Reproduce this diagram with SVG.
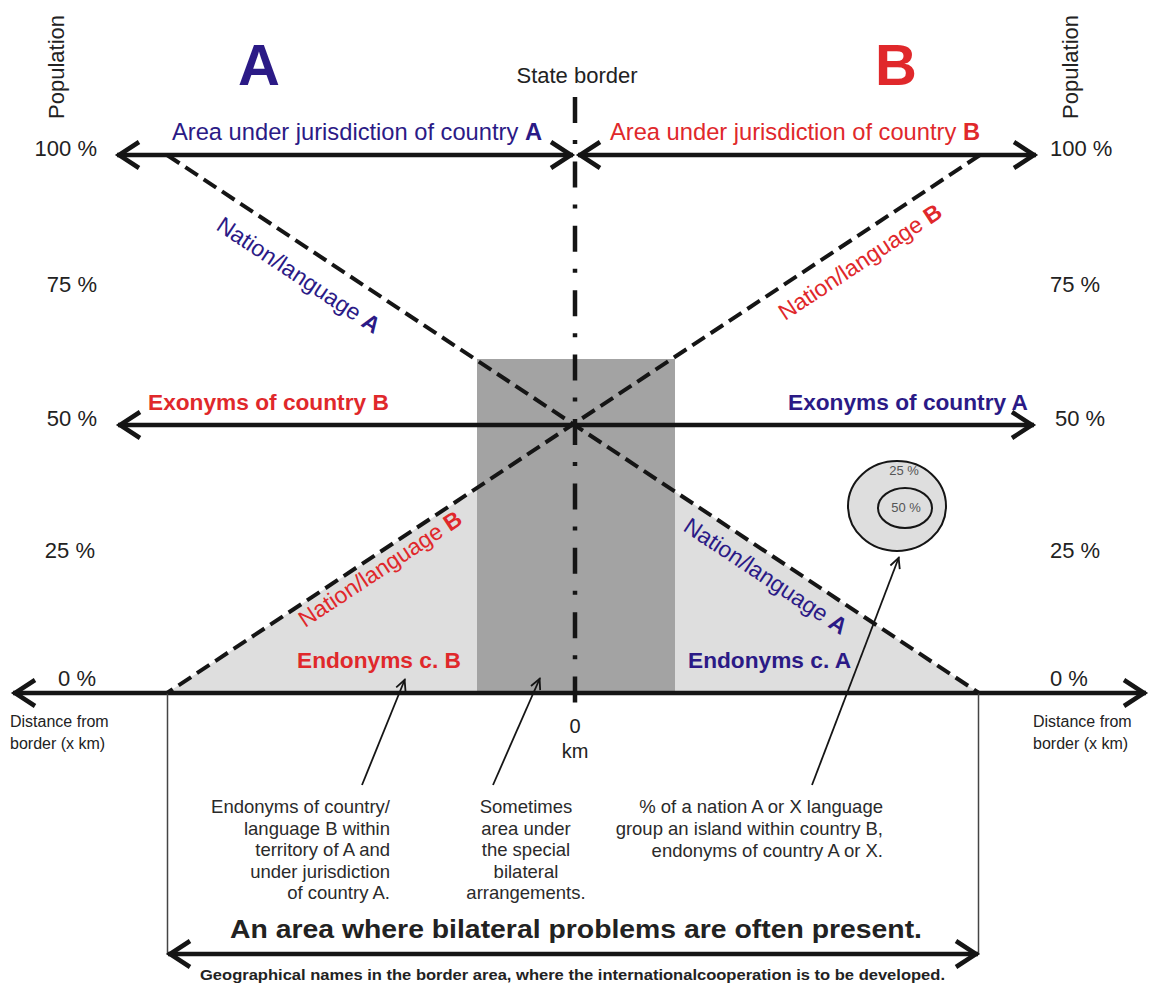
<svg xmlns="http://www.w3.org/2000/svg" width="1151" height="986" viewBox="0 0 1151 986">
<style>
text{font-family:"Liberation Sans",Arial,sans-serif;fill:#222}
.lbl{font-size:22px}
.juris{font-size:23.7px}
.exo{font-size:22.7px}
.nat{font-size:23px}
.b{font-weight:bold}
.navy{fill:#2b1a86}
.red{fill:#e0282b}
.note{font-size:18.5px;fill:#2a2a2a}
.ax{stroke:#151515;stroke-width:4.5;fill:none}
.dash{stroke:#151515;stroke-width:4;stroke-dasharray:15 7;fill:none}
.thin{stroke:#444;stroke-width:1.5;fill:none}
.ptr{stroke:#151515;stroke-width:1.8;fill:none}
</style>
<defs>
<marker id="big" viewBox="-26 -17 32 34" refX="0" refY="0" markerWidth="32" markerHeight="34" markerUnits="userSpaceOnUse" orient="auto-start-reverse">
<path d="M-22,-13 L-2,0 L-22,13" fill="none" stroke="#151515" stroke-width="4.5"/>
</marker>
<marker id="small" viewBox="-14 -8 17 16" refX="0" refY="0" markerWidth="17" markerHeight="16" markerUnits="userSpaceOnUse" orient="auto">
<path d="M-11,-5 L-1,0 L-11,5" fill="none" stroke="#151515" stroke-width="1.8"/>
</marker>
</defs>
<rect width="1151" height="986" fill="#fff"/>

<g id="regions">
<polygon points="167,693 573.5,424.7 979,693" fill="#dedede"/>
<rect x="477" y="359" width="198" height="334" fill="#a3a3a3"/>
</g>

<g id="connectors">
<line class="ax" x1="117" y1="155" x2="573" y2="155" marker-start="url(#big)" marker-end="url(#big)"/>
<line class="ax" x1="578" y1="155" x2="1036" y2="155" marker-start="url(#big)" marker-end="url(#big)"/>
<line class="ax" x1="118" y1="425" x2="1034" y2="425" marker-start="url(#big)" marker-end="url(#big)"/>
<line class="ax" x1="13" y1="693" x2="1146" y2="693" marker-start="url(#big)" marker-end="url(#big)"/>
<line class="thin" x1="167.5" y1="693" x2="167.5" y2="954"/>
<line class="thin" x1="978.5" y1="693" x2="978.5" y2="954"/>
<line class="ax" x1="168" y1="954" x2="978" y2="954" marker-start="url(#big)" marker-end="url(#big)"/>
<line class="dash" x1="167" y1="155" x2="979" y2="693"/>
<line class="dash" x1="980" y1="155" x2="167" y2="693"/>
<line x1="575" y1="97" x2="575" y2="703" stroke="#151515" stroke-width="4.5" stroke-dasharray="26 17 4 17.4"/>
<line class="ptr" x1="362" y1="785" x2="405" y2="679" marker-end="url(#small)"/>
<line class="ptr" x1="493" y1="785" x2="540" y2="678" marker-end="url(#small)"/>
<line class="ptr" x1="812" y1="785" x2="899" y2="557" marker-end="url(#small)"/>
</g>

<g id="island">
<ellipse cx="897" cy="506" rx="49" ry="45" fill="#dedede" stroke="#151515" stroke-width="2"/>
<ellipse cx="905" cy="508" rx="27" ry="20" fill="#dedede" stroke="#151515" stroke-width="2"/>
<text x="904" y="475" font-size="13" text-anchor="middle" style="fill:#555">25 %</text>
<text x="906" y="512" font-size="13" text-anchor="middle" style="fill:#555">50 %</text>
</g>

<g id="country-A">
<text class="b navy" x="259" y="85" font-size="58" text-anchor="middle">A</text>
<text class="juris navy" x="172" y="140">Area under jurisdiction of country <tspan class="b">A</tspan></text>
<text class="exo b navy" x="788" y="410">Exonyms of country A</text>
<text class="nat navy" transform="translate(215,229) rotate(33.56)">Nation/language <tspan class="b">A</tspan></text>
<text class="nat navy" transform="translate(682,530) rotate(33.56)">Nation/language <tspan class="b">A</tspan></text>
<text class="exo b navy" x="688" y="668">Endonyms c. A</text>
</g>

<g id="country-B">
<text class="b red" x="896" y="85" font-size="58" text-anchor="middle">B</text>
<text class="juris red" x="610" y="140">Area under jurisdiction of country <tspan class="b">B</tspan></text>
<text class="exo b red" x="148" y="410">Exonyms of country B</text>
<text class="nat red" transform="translate(785,321) rotate(-33.5)">Nation/language <tspan class="b">B</tspan></text>
<text class="nat red" transform="translate(305,628) rotate(-33.5)">Nation/language <tspan class="b">B</tspan></text>
<text class="exo b red" x="297" y="668">Endonyms c. B</text>
</g>

<g id="state-border">
<text class="lbl" x="577" y="83" text-anchor="middle">State border</text>
<text x="575" y="733" font-size="20" text-anchor="middle">0</text>
<text x="575" y="758" font-size="20" text-anchor="middle">km</text>
</g>

<g id="axis-left">
<text class="lbl" transform="translate(64,67) rotate(-90)" text-anchor="middle">Population</text>
<text class="lbl" x="97" y="156" text-anchor="end">100 %</text>
<text class="lbl" x="97" y="292" text-anchor="end">75 %</text>
<text class="lbl" x="97" y="426" text-anchor="end">50 %</text>
<text class="lbl" x="95" y="558" text-anchor="end">25 %</text>
<text class="lbl" x="96" y="686" text-anchor="end">0 %</text>
<text x="10" y="727" font-size="16">Distance from</text>
<text x="10" y="749" font-size="16">border (x km)</text>
</g>

<g id="axis-right">
<text class="lbl" transform="translate(1078,67) rotate(-90)" text-anchor="middle">Population</text>
<text class="lbl" x="1050" y="156">100 %</text>
<text class="lbl" x="1050" y="292">75 %</text>
<text class="lbl" x="1055" y="426">50 %</text>
<text class="lbl" x="1050" y="558">25 %</text>
<text class="lbl" x="1050" y="686">0 %</text>
<text x="1033" y="727" font-size="16">Distance from</text>
<text x="1033" y="749" font-size="16">border (x km)</text>
</g>

<g id="note-endonyms-B">
<text class="note" x="390" y="813" text-anchor="end">Endonyms of country/</text>
<text class="note" x="390" y="835" text-anchor="end">language B within</text>
<text class="note" x="390" y="856" text-anchor="end">territory of A and</text>
<text class="note" x="390" y="878" text-anchor="end">under jurisdiction</text>
<text class="note" x="390" y="899" text-anchor="end">of country A.</text>
</g>

<g id="note-bilateral">
<text class="note" x="526" y="813" text-anchor="middle">Sometimes</text>
<text class="note" x="526" y="835" text-anchor="middle">area under</text>
<text class="note" x="526" y="856" text-anchor="middle">the special</text>
<text class="note" x="526" y="878" text-anchor="middle">bilateral</text>
<text class="note" x="526" y="899" text-anchor="middle">arrangements.</text>
</g>

<g id="note-island">
<text class="note" x="883" y="813" text-anchor="end">% of a nation A or X language</text>
<text class="note" x="883" y="835" text-anchor="end">group an island within country B,</text>
<text class="note" x="883" y="857" text-anchor="end">endonyms of country A or X.</text>
</g>

<g id="problem-area">
<text class="b" x="230" y="938" font-size="26.5" textLength="692" lengthAdjust="spacingAndGlyphs">An area where bilateral problems are often present.</text>
<text class="b" x="200" y="980" font-size="15" textLength="745" lengthAdjust="spacingAndGlyphs">Geographical names in the border area, where the internationalcooperation is to be developed.</text>
</g>
</svg>
